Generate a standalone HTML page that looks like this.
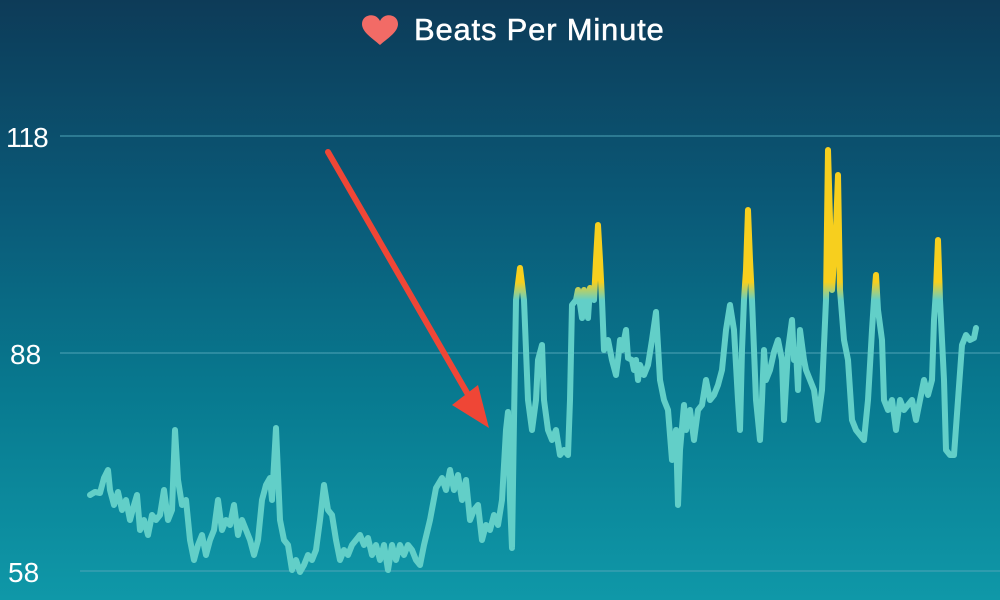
<!DOCTYPE html>
<html><head><style>
html,body{margin:0;padding:0;width:1000px;height:600px;overflow:hidden}
body{background:linear-gradient(#0d3b58 0%,#0a5a78 35%,#08798f 65%,#0f98a8 100%);font-family:"Liberation Sans",sans-serif}
</style></head><body>
<svg width="1000" height="600" style="position:absolute;left:0;top:0">
<defs>
<linearGradient id="g" gradientUnits="userSpaceOnUse" x1="0" y1="0" x2="0" y2="600">
<stop offset="0.47" stop-color="#f7cf1e"/><stop offset="0.5" stop-color="#62cfc8"/>
</linearGradient>
</defs>
<g stroke="#4fa5b8" stroke-width="1.2" opacity="0.8">
<line x1="60" y1="136" x2="1000" y2="136"/>
<line x1="60" y1="353" x2="1000" y2="353"/>
<line x1="80" y1="571" x2="1000" y2="571"/>
</g>
<g fill="#fff" font-size="28">
<text x="6" y="147" letter-spacing="-1">118</text>
<text x="10" y="364">88</text>
<text x="8" y="582">58</text>
<text x="414" y="40" font-size="31" letter-spacing="0.8" stroke="#fff" stroke-width="0.5">Beats Per Minute</text>
</g>
<path d="M380 45 C372 38 362 32 362 24 C362 14 376 12 380 21 C384 12 398 14 398 24 C398 32 388 38 380 45Z" fill="#f26b66"/>
<polyline fill="none" stroke="url(#g)" stroke-width="6" stroke-linejoin="round" stroke-linecap="round" points="90,495 95,492 100,493 104,478 108,470 110,490 114,505 118,492 122,510 126,500 130,520 134,505 137,495 140,530 144,520 148,535 152,515 156,520 160,515 164,490 168,520 172,510 175,430 178,480 182,505 186,500 190,540 194,560 198,545 202,535 206,555 210,540 214,530 218,500 222,530 226,520 230,525 234,505 238,535 242,520 246,530 250,540 254,555 258,540 262,500 266,485 270,478 272,500 276,428 280,520 284,540 288,545 292,570 296,560 300,572 304,565 308,555 312,560 316,550 320,520 324,485 328,510 332,515 336,540 340,560 344,550 348,555 352,545 356,540 360,535 364,545 368,538 372,555 376,545 380,560 384,545 388,570 392,545 396,560 400,545 404,555 408,545 412,550 416,560 420,565 424,545 430,520 436,488 442,478 446,490 450,470 454,490 458,475 462,500 466,480 470,520 474,510 478,505 482,540 486,525 490,530 494,515 498,525 502,500 506,430 508,412 510,500 512,548 514,420 516,300 520,268 524,300 528,400 532,430 536,400 538,360 542,345 544,400 548,430 552,440 556,430 560,455 564,450 568,455 570,400 572,305 576,300 578,290 582,318 584,290 588,318 590,288 594,300 596,260 598,225 600,260 602,300 604,350 608,340 612,360 616,375 618,360 620,340 622,350 626,330 628,358 632,360 634,370 636,360 638,380 640,365 644,375 648,365 652,340 656,312 660,380 664,400 668,410 672,460 676,430 678,505 680,450 684,405 686,430 690,410 694,440 698,410 702,405 706,380 710,400 714,395 718,385 722,370 726,330 730,305 734,330 738,400 740,430 742,350 744,300 746,270 748,210 750,260 752,300 756,400 760,440 762,400 764,350 766,380 770,370 774,352 778,340 782,360 784,420 788,350 792,320 794,360 796,350 798,390 800,330 804,360 806,370 810,380 814,390 818,420 822,390 826,300 828,150 832,290 836,230 838,175 840,290 844,340 848,360 852,420 856,430 860,435 864,440 868,400 872,330 874,300 876,275 878,310 882,340 884,400 888,410 892,400 896,430 900,400 904,410 908,405 912,400 916,420 920,400 924,380 928,395 932,380 934,320 936,290 938,240 940,300 944,380 946,450 950,455 954,455 958,400 962,345 966,335 970,340 974,338 976,328"/>
<line x1="328" y1="152" x2="470" y2="398" stroke="#ef4636" stroke-width="6" stroke-linecap="round"/>
<polygon points="452,405 478,385 489,428" fill="#ef4636"/>
</svg>
</body></html>
